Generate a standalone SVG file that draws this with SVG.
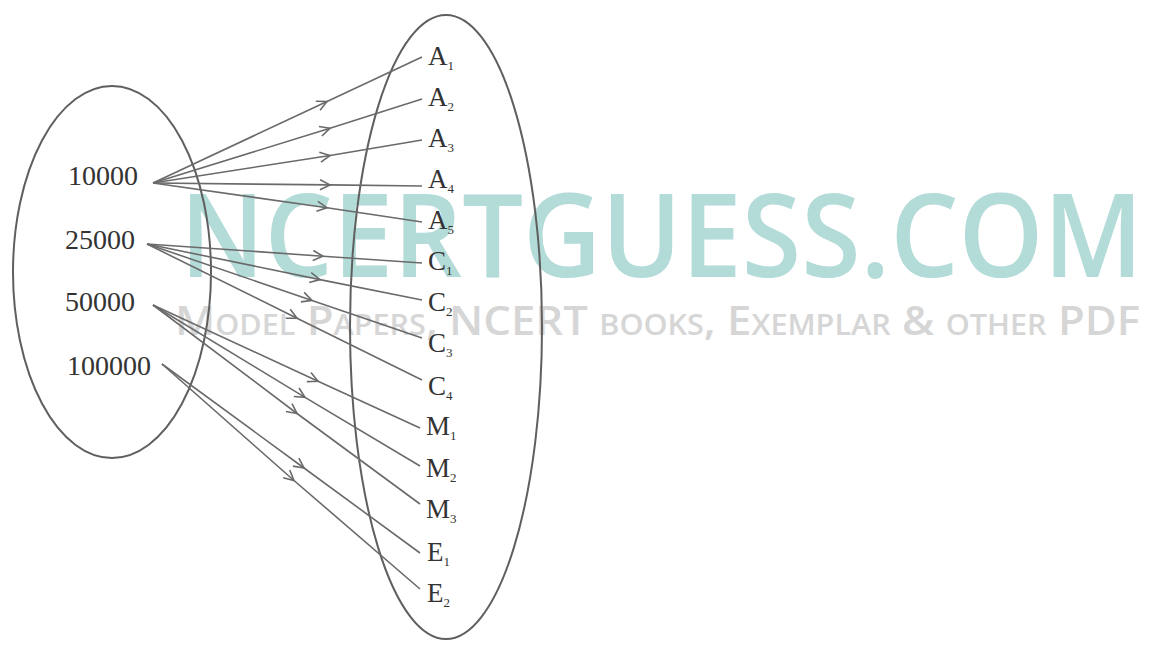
<svg xmlns="http://www.w3.org/2000/svg" width="1170" height="648" viewBox="0 0 1170 648">
<style>
.set{fill:none;stroke:#5f5f5f;stroke-width:2}
.num{font-family:"Liberation Serif","Times New Roman",serif;font-size:28px;fill:#333}
.lab{font-family:"Liberation Serif","Times New Roman",serif;font-size:27px;fill:#333}
.sub{font-size:13px}
.edge{fill:none;stroke:#6a6a6a;stroke-width:1.6;marker-mid:url(#chev)}
.wm1{font-family:"Open Sans","Liberation Sans",sans-serif;font-weight:600;font-size:108px;fill:#b3dbd8}
.wm2{font-family:"Open Sans","Liberation Sans",sans-serif;font-weight:600;font-size:40px;fill:#d6d6d6;font-variant:small-caps}
</style>
<defs>
<marker id="chev" markerUnits="userSpaceOnUse" markerWidth="14" markerHeight="14" refX="0" refY="0" viewBox="-12 -7 14 14" orient="auto">
<path d="M-10,-5 L0,0 L-10,5" fill="none" stroke="#6a6a6a" stroke-width="1.6"/>
</marker>
</defs>
<rect width="1170" height="648" fill="#ffffff"/>
<g id="watermark">
<text class="wm1" x="180" y="256.5" transform="scale(1,1.08)" textLength="963" lengthAdjust="spacingAndGlyphs">NCERTGUESS.COM</text>
<text class="wm2" x="175" y="335" textLength="965" lengthAdjust="spacingAndGlyphs">Model Papers, NCERT books, Exemplar &amp; other PDF</text>
</g>
<g id="set-left"><ellipse class="set" cx="112" cy="272" rx="99" ry="186"/></g>
<g id="set-right"><ellipse class="set" cx="446" cy="327" rx="96" ry="312"/></g>
<g id="connectors">
<polyline class="edge" points="153,183 327,101.5 422,57"/>
<polyline class="edge" points="153,183 330,128.2 422,99"/>
<polyline class="edge" points="153,183 330,155.5 422,140"/>
<polyline class="edge" points="153,183 330,184.9 422,186"/>
<polyline class="edge" points="153,183 327,207.7 422,222"/>
<polyline class="edge" points="147,244 323,256.2 422,263"/>
<polyline class="edge" points="147,244 320,279.6 422,300"/>
<polyline class="edge" points="147,244 312,300.4 422,338"/>
<polyline class="edge" points="147,244 297,318.2 422,380"/>
<polyline class="edge" points="153,305 318,381.3 420,428"/>
<polyline class="edge" points="153,305 305,397.4 420,466"/>
<polyline class="edge" points="153,305 297,413.5 420,504"/>
<polyline class="edge" points="162,364 304,468 420,553"/>
<polyline class="edge" points="162,364 294,480.5 420,589"/>
</g>
<g id="n-10000"><text class="num" x="68" y="185">10000</text></g>
<g id="n-25000"><text class="num" x="65" y="249">25000</text></g>
<g id="n-50000"><text class="num" x="65" y="311">50000</text></g>
<g id="n-100000"><text class="num" x="67" y="375">100000</text></g>
<g id="A1"><text class="lab" x="428" y="65">A<tspan class="sub" dy="5">1</tspan></text></g>
<g id="A2"><text class="lab" x="428" y="106">A<tspan class="sub" dy="5">2</tspan></text></g>
<g id="A3"><text class="lab" x="428" y="147">A<tspan class="sub" dy="5">3</tspan></text></g>
<g id="A4"><text class="lab" x="428" y="188">A<tspan class="sub" dy="5">4</tspan></text></g>
<g id="A5"><text class="lab" x="428" y="229">A<tspan class="sub" dy="5">5</tspan></text></g>
<g id="C1"><text class="lab" x="428" y="270">C<tspan class="sub" dy="5">1</tspan></text></g>
<g id="C2"><text class="lab" x="428" y="311">C<tspan class="sub" dy="5">2</tspan></text></g>
<g id="C3"><text class="lab" x="428" y="352">C<tspan class="sub" dy="5">3</tspan></text></g>
<g id="C4"><text class="lab" x="428" y="395">C<tspan class="sub" dy="5">4</tspan></text></g>
<g id="M1"><text class="lab" x="426" y="435">M<tspan class="sub" dy="5">1</tspan></text></g>
<g id="M2"><text class="lab" x="426" y="477">M<tspan class="sub" dy="5">2</tspan></text></g>
<g id="M3"><text class="lab" x="426" y="518">M<tspan class="sub" dy="5">3</tspan></text></g>
<g id="E1"><text class="lab" x="427" y="561">E<tspan class="sub" dy="5">1</tspan></text></g>
<g id="E2"><text class="lab" x="427" y="602">E<tspan class="sub" dy="5">2</tspan></text></g>
</svg>
